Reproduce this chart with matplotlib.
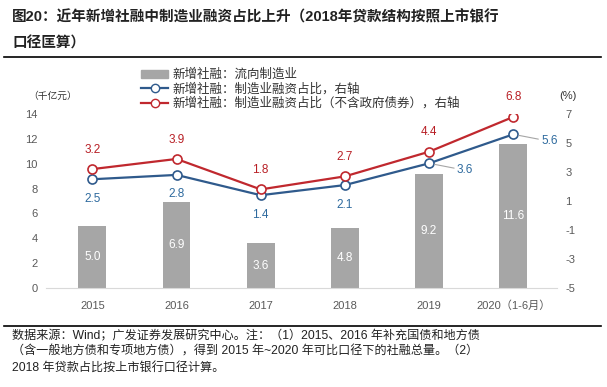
import matplotlib.pyplot as plt
from matplotlib.lines import Line2D
from matplotlib.patches import Patch

plt.rcParams['font.family'] = ['Liberation Sans', 'Noto Sans CJK SC', 'DejaVu Sans']
plt.rcParams['axes.unicode_minus'] = False

years = ["2015", "2016", "2017", "2018", "2019", "2020（1-6月）"]
flow_mfg = [5.0, 6.9, 3.6, 4.8, 9.2, 11.6]            # 千亿元, left axis
share_mfg = [2.5, 2.8, 1.4, 2.1, 3.6, 5.6]            # %, right axis
share_ex_gov = [3.2, 3.9, 1.8, 2.7, 4.4, 6.8]         # %, right axis

left_ticks = [0, 2, 4, 6, 8, 10, 12, 14]
right_ticks = [-5, -3, -1, 1, 3, 5, 7]

title = "图20：近年新增社融中制造业融资占比上升（2018年贷款结构按照上市银行\n口径匡算）"
note = ("数据来源：Wind；广发证券发展研究中心。注：（1）2015、2016 年补充国债和地方债\n"
        "（含一般地方债和专项地方债），得到 2015 年~2020 年可比口径下的社融总量。（2）\n"
        "2018 年贷款占比按上市银行口径计算。")
legend_labels = ["新增社融：流向制造业",
                 "新增社融：制造业融资占比，右轴",
                 "新增社融：制造业融资占比（不含政府债券），右轴"]

bar_c = "#A6A6A6"
blue = "#2F5A8C"
red = "#C0282E"
blue_txt = "#2E6A9E"
red_txt = "#B81F25"
tick_c = "#595959"

fig = plt.figure(figsize=(6.07, 3.87), dpi=100)
ax = fig.add_axes([0.0758, 0.2558, 0.842, 0.4496])
ax2 = ax.twinx()

x = list(range(len(years)))
ax.bar(x, flow_mfg, width=0.33, color=bar_c, zorder=2)
for xi, v in zip(x, flow_mfg):
    ax.text(xi, v / 2, f"{v:.1f}", color="white", ha="center", va="center", fontsize=8.5)

ax.set_ylim(0, 14)
ax.set_xlim(-0.55, 5.52)
ax.set_yticks(left_ticks)
ax.set_xticks(x)
ax.set_xticklabels(years)
ax2.set_ylim(-5, 7)
ax2.set_yticks(right_ticks)

for a in (ax, ax2):
    for s in a.spines.values():
        s.set_visible(False)
    a.tick_params(length=0, labelsize=8, colors=tick_c, pad=6)
ax.spines['bottom'].set_visible(True)
ax.spines['bottom'].set_color("#D9D9D9")
ax.tick_params(axis='x', pad=9)

ax2.plot(x, share_mfg, color=blue, lw=1.6, marker="o", ms=6.5, mfc="white", mec=blue, mew=1.2, zorder=3)
ax2.plot(x, share_ex_gov, color=red, lw=1.6, marker="o", ms=6.5, mfc="white", mec=red, mew=1.2, zorder=3)

for xi, v in zip(x, share_ex_gov):
    ax2.annotate(f"{v:.1f}", (xi, v), xytext=(0, 14), textcoords="offset points",
                 ha="center", va="center", color=red_txt, fontsize=8.5)
for xi, v in zip(x[:4], share_mfg[:4]):
    ax2.annotate(f"{v:.1f}", (xi, v), xytext=(0, -14), textcoords="offset points",
                 ha="center", va="center", color=blue_txt, fontsize=8.5)
for xi, v in zip(x[4:], share_mfg[4:]):
    ax2.annotate(f"{v:.1f}", (xi, v), xytext=(20, -5), textcoords="offset points",
                 ha="left", va="center", color=blue_txt, fontsize=8.5,
                 arrowprops=dict(arrowstyle="-", color="#A6A6A6", lw=0.8,
                                 shrinkA=0, shrinkB=4))

handles = [Patch(color=bar_c),
           Line2D([], [], color=blue, lw=1.6, marker="o", ms=6, mfc="white", mec=blue),
           Line2D([], [], color=red, lw=1.6, marker="o", ms=6, mfc="white", mec=red)]
leg = fig.legend(handles, legend_labels, loc="upper left", bbox_to_anchor=(0.232, 0.822),
                 frameon=False, fontsize=9, handlelength=2.2, handleheight=0.6,
                 handletextpad=0.3, labelspacing=0.15, borderaxespad=0, borderpad=0)
for t in leg.get_texts():
    t.set_color("#333333")

fig.text(0.046, 0.752, "（千亿元）", fontsize=7, color="#333333", va="center")
fig.text(0.922, 0.752, "(%)", fontsize=8, color="#333333", va="center")

fig.text(0.02, 0.975, title, fontsize=10.5, fontweight="bold", va="top", ha="left",
         color="#222222", linespacing=2.05)
fig.add_artist(Line2D([0.007, 0.99], [0.853, 0.853], color="black", lw=1.2))
fig.add_artist(Line2D([0.007, 0.99], [0.158, 0.158], color="black", lw=1.2))
fig.text(0.02, 0.147, note, fontsize=8.7, va="top", ha="left", color="#222222",
         linespacing=1.4)

fig.savefig("out.png", dpi=100)
